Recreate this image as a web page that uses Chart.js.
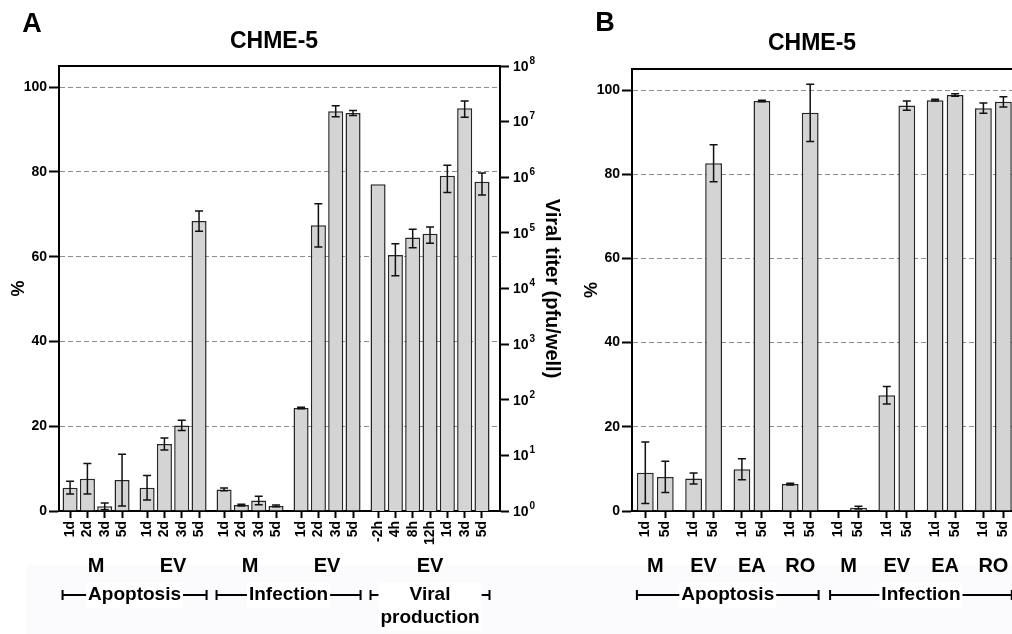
<!DOCTYPE html>
<html><head><meta charset="utf-8">
<script src="https://cdn.jsdelivr.net/npm/chart.js@4.4.1/dist/chart.umd.min.js"></script>
<style>
html,body{margin:0;padding:0;background:#fff;overflow:hidden;width:1012px;height:634px;position:relative;}
#bg{position:absolute;left:26px;top:565px;width:986px;height:69px;background:#fbfafd;}
canvas{position:absolute;top:0;}
#cA{left:0;} #cB{left:580px;}
</style></head><body>
<div id="bg"></div>
<canvas id="cA" width="575" height="634"></canvas>
<canvas id="cB" width="450" height="634"></canvas>
<script>
// ---------- Panel A data ----------
const aTickLabels = ['1d','2d','3d','5d','1d','2d','3d','5d','1d','2d','3d','5d','1d','2d','3d','5d','-2h','4h','8h','12h','1d','3d','5d'];
const aGroupLabels = ['M','EV','M','EV','EV'];
const aGroupSizes = [4,4,4,4,7];
const aBracketLabels = [['Apoptosis'],['Infection'],['Viral','production']];
const aBracketGroups = [[0,1],[2,3],[4,4]];
const aPercent    = [5.5, 7.6, 1.1, 7.3,  5.5, 15.8, 20.2, 68.4,  5.1, 1.4, 2.5, 1.2,  24.3, 67.4, 94.3, 93.9];
const aPercentErr = [1.5, 3.6, 0.8, 6.1,  2.9, 1.4,  1.2,  2.4,   0.3, 0.2, 1.0, 0.2,  0.2,  5.1,  1.3,  0.6];
const aTiter     = [7.5e5, 4.0e4, 8.3e4, 9.6e4, 1.06e6, 1.74e7, 8.3e5];
const aTiterLow  = [null, 1.7e4, 5.4e4, 6.5e4, 5.3e5, 1.2e7, 4.8e5];
const aTiterHigh = [null, 6.4e4, 1.16e5, 1.27e5, 1.64e6, 2.35e7, 1.19e6];
const percentTicks = [0,20,40,60,80,100];
const titerTicks = [1,10,100,1e3,1e4,1e5,1e6,1e7,1e8];

// ---------- Panel B data ----------
const bTickLabels = ['1d','5d','1d','5d','1d','5d','1d','5d','1d','5d','1d','5d','1d','5d','1d','5d'];
const bGroupLabels = ['M','EV','EA','RO','M','EV','EA','RO'];
const bGroupSizes = [2,2,2,2,2,2,2,2];
const bBracketLabels = [['Apoptosis'],['Infection']];
const bBracketGroups = [[0,3],[4,7]];
const bPercent    = [9.1, 8.1, 7.7, 82.6, 9.9, 97.4, 6.4, 94.6,  0,    0.8, 27.5, 96.3, 97.6, 98.8, 95.7, 97.2];
const bPercentErr = [7.3, 3.7, 1.3, 4.4,  2.5, 0.2,  0.2, 6.8,   null, 0.3, 2.1,  1.1,  0.2,  0.3,  1.2,  1.2];

const FAM = '"Liberation Sans", Arial, Helvetica, sans-serif';
Chart.defaults.font.family = FAM;
Chart.defaults.color = '#000';

function slotPositions(sizes, gap) {
  const xs = []; let i = 0;
  sizes.forEach((n, g) => { for (let k = 0; k < n; k++) { xs.push(i + g * gap); i++; } });
  return xs;
}

const errorBars = {
  id: 'errorBars',
  afterDatasetsDraw(chart) {
    const ctx = chart.ctx;
    chart.data.datasets.forEach((ds, di) => {
      const meta = chart.getDatasetMeta(di);
      const ys = chart.scales[meta.yAxisID];
      meta.data.forEach((el, j) => {
        const lo = ds.errLow[j], hi = ds.errHigh[j];
        if (lo == null || hi == null) return;
        const yl = ys.getPixelForValue(lo), yh = ys.getPixelForValue(hi);
        ctx.save();
        ctx.strokeStyle = '#111'; ctx.lineWidth = 1.5;
        ctx.beginPath();
        ctx.moveTo(el.x, yl); ctx.lineTo(el.x, yh);
        ctx.moveTo(el.x - 4, yl); ctx.lineTo(el.x + 4, yl);
        ctx.moveTo(el.x - 4, yh); ctx.lineTo(el.x + 4, yh);
        ctx.stroke();
        ctx.restore();
      });
    });
  }
};

// power-of-ten labels with a raised exponent for the log axis
const powLabels = {
  id: 'powLabels',
  afterDraw(chart) {
    const s = chart.scales.y2; if (!s) return;
    const ctx = chart.ctx;
    ctx.save(); ctx.fillStyle = '#000'; ctx.textBaseline = 'middle'; ctx.textAlign = 'left';
    titerTicks.forEach(v => {
      const y = s.getPixelForValue(v), x = s.left + 13;
      ctx.font = 'bold 14px ' + FAM; ctx.fillText('10', x, y + 1);
      const w = ctx.measureText('10').width;
      ctx.font = 'bold 10px ' + FAM; ctx.fillText(String(Math.round(Math.log10(v))), x + w + 1, y - 5);
    });
    ctx.restore();
  }
};

function decor(o) {
  return {
    id: 'decor',
    afterDraw(chart) {
      const ctx = chart.ctx, ca = chart.chartArea, xs = chart.scales.x;
      ctx.save();
      ctx.strokeStyle = '#000'; ctx.lineWidth = 2;
      ctx.beginPath();
      ctx.moveTo(ca.left - 1, ca.top);
      ctx.lineTo(o.frameToEdge ? chart.width : ca.right + 1, ca.top);
      ctx.stroke();
      ctx.fillStyle = '#000'; ctx.textAlign = 'center'; ctx.textBaseline = 'middle';
      ctx.font = 'bold 27px ' + FAM; ctx.fillText(o.letter, o.letterX, o.letterY);
      ctx.font = 'bold 23px ' + FAM; ctx.fillText(o.title, o.titleX, o.titleY);
      const half = chart.getDatasetMeta(0).data[0].width / 2;
      const spans = []; let start = 0;
      o.groupSizes.forEach(n => { spans.push([o.xs[start], o.xs[start + n - 1]]); start += n; });
      ctx.font = 'bold 20px ' + FAM;
      spans.forEach((s, g) => ctx.fillText(o.groupLabels[g], xs.getPixelForValue((s[0] + s[1]) / 2), ca.bottom + 55));
      const ly = ca.bottom + 84;
      ctx.font = 'bold 19px ' + FAM;
      ctx.lineWidth = 2;
      o.bracketGroups.forEach((bg, k) => {
        const x1 = xs.getPixelForValue(spans[bg[0]][0]) - half;
        const x2 = xs.getPixelForValue(spans[bg[1]][1]) + half;
        const lines = o.bracketLabels[k];
        const w = Math.max(...lines.map(t => ctx.measureText(t).width));
        const cx = (x1 + x2) / 2;
        ctx.fillStyle = '#fff';
        ctx.fillRect(cx - w / 2 - 2, ly - 12, w + 4, lines.length * 23 + 2);
        ctx.fillStyle = '#000';
        lines.forEach((t, j) => ctx.fillText(t, cx, ly + j * 23));
        ctx.beginPath();
        ctx.moveTo(x1, ly); ctx.lineTo(cx - w / 2 - 2, ly);
        ctx.moveTo(cx + w / 2 + 2, ly); ctx.lineTo(x2, ly);
        ctx.moveTo(x1, ly - 5); ctx.lineTo(x1, ly + 5);
        ctx.moveTo(x2, ly - 5); ctx.lineTo(x2, ly + 5);
        ctx.stroke();
      });
      ctx.restore();
    }
  };
}

const barStyle = {
  backgroundColor: '#d4d4d4', borderColor: '#262626', borderWidth: 1.5,
  grouped: false, categoryPercentage: 1
};
const tickFont = {size: 14, weight: 'bold'};

function xAxis(xs, labels, min, max) {
  return {
    type: 'linear', position: 'bottom', min, max, bounds: 'data', offset: false,
    afterBuildTicks: s => { s.ticks = xs.map(v => ({value: v})); },
    afterFit: s => { s.height = 50; },
    ticks: { autoSkip: false, minRotation: 90, maxRotation: 90, padding: 3,
      font: {size: 14, weight: 'bold'}, color: '#000', callback: (v, i) => labels[i] },
    grid: { offset: false, drawOnChartArea: false, drawTicks: true, tickLength: 7, tickWidth: 2, tickColor: '#000', color: '#000' },
    border: { display: true, color: '#000', width: 2 }
  };
}
function pctAxis(width, titlePad) {
  return {
    type: 'linear', position: 'left', min: 0, max: 105, bounds: 'data',
    afterBuildTicks: s => { s.ticks = percentTicks.map(v => ({value: v})); },
    afterFit: s => { s.width = width; },
    ticks: { font: tickFont, color: '#000', padding: 2 },
    grid: { color: c => (c.tick && c.tick.value === 0) ? 'rgba(0,0,0,0)' : '#8c8c8c', lineWidth: 1,
      drawTicks: true, tickLength: 10, tickWidth: 2, tickColor: '#000' },
    border: { display: true, color: '#000', width: 2, dash: [5, 3] },
    title: { display: true, text: '%', font: {size: 18, weight: 'bold'}, color: '#000', padding: {top: titlePad, bottom: 0} }
  };
}

// ---------- Chart A ----------
const xsA = slotPositions(aGroupSizes, 0.445);
const nPct = aPercent.length;
new Chart(document.getElementById('cA'), {
  type: 'bar',
  data: {
    datasets: [
      Object.assign({}, barStyle, {
        yAxisID: 'y', barPercentage: 0.87,
        data: aPercent.map((v, i) => ({x: xsA[i], y: v})),
        errLow: aPercent.map((v, i) => v - aPercentErr[i]),
        errHigh: aPercent.map((v, i) => v + aPercentErr[i])
      }),
      Object.assign({}, barStyle, {
        yAxisID: 'y2', barPercentage: 0.87,
        data: aTiter.map((v, i) => ({x: xsA[nPct + i], y: v})),
        errLow: aTiterLow, errHigh: aTiterHigh
      })
    ]
  },
  options: {
    responsive: false, animation: false, devicePixelRatio: 1,
    layout: { padding: {top: 66, left: 0, right: 0, bottom: 73} },
    plugins: { legend: {display: false}, tooltip: {enabled: false} },
    scales: {
      x: xAxis(xsA, aTickLabels, -0.64, 24.82),
      y: pctAxis(59, 8),
      y2: {
        type: 'logarithmic', position: 'right', min: 1, max: 1e8,
        afterBuildTicks: s => { s.ticks = titerTicks.map(v => ({value: v})); },
        afterFit: s => { s.width = 75; },
        ticks: { display: true, font: tickFont, color: 'rgba(0,0,0,0)', padding: 4, callback: () => '' },
        grid: { drawOnChartArea: false, drawTicks: true, tickLength: 9, tickWidth: 2, tickColor: '#000', color: '#000' },
        border: { display: true, color: '#000', width: 2 },
        title: { display: true, text: 'Viral titer (pfu/well)', font: {size: 20, weight: 'bold'}, color: '#000', padding: {top: 11, bottom: 0} }
      }
    }
  },
  plugins: [errorBars, powLabels, decor({
    letter: 'A', letterX: 32, letterY: 25, title: 'CHME-5', titleX: 274, titleY: 42,
    xs: xsA, groupSizes: aGroupSizes, groupLabels: aGroupLabels,
    bracketGroups: aBracketGroups, bracketLabels: aBracketLabels, frameToEdge: false
  })]
});

// ---------- Chart B ----------
const xsB = slotPositions(bGroupSizes, 0.415);
new Chart(document.getElementById('cB'), {
  type: 'bar',
  data: {
    datasets: [
      Object.assign({}, barStyle, {
        yAxisID: 'y', barPercentage: 0.84,
        data: bPercent.map((v, i) => ({x: xsB[i], y: v})),
        errLow: bPercent.map((v, i) => bPercentErr[i] == null ? null : v - bPercentErr[i]),
        errHigh: bPercent.map((v, i) => bPercentErr[i] == null ? null : v + bPercentErr[i])
      })
    ]
  },
  options: {
    responsive: false, animation: false, devicePixelRatio: 1,
    layout: { padding: {top: 69, left: 0, right: 7, bottom: 73} },
    plugins: { legend: {display: false}, tooltip: {enabled: false} },
    scales: {
      x: xAxis(xsB, bTickLabels, -0.665, 18.885),
      y: pctAxis(52, 1)
    }
  },
  plugins: [errorBars, decor({
    letter: 'B', letterX: 25, letterY: 24, title: 'CHME-5', titleX: 232, titleY: 44,
    xs: xsB, groupSizes: bGroupSizes, groupLabels: bGroupLabels,
    bracketGroups: bBracketGroups, bracketLabels: bBracketLabels, frameToEdge: true
  })]
});
</script>
</body></html>
